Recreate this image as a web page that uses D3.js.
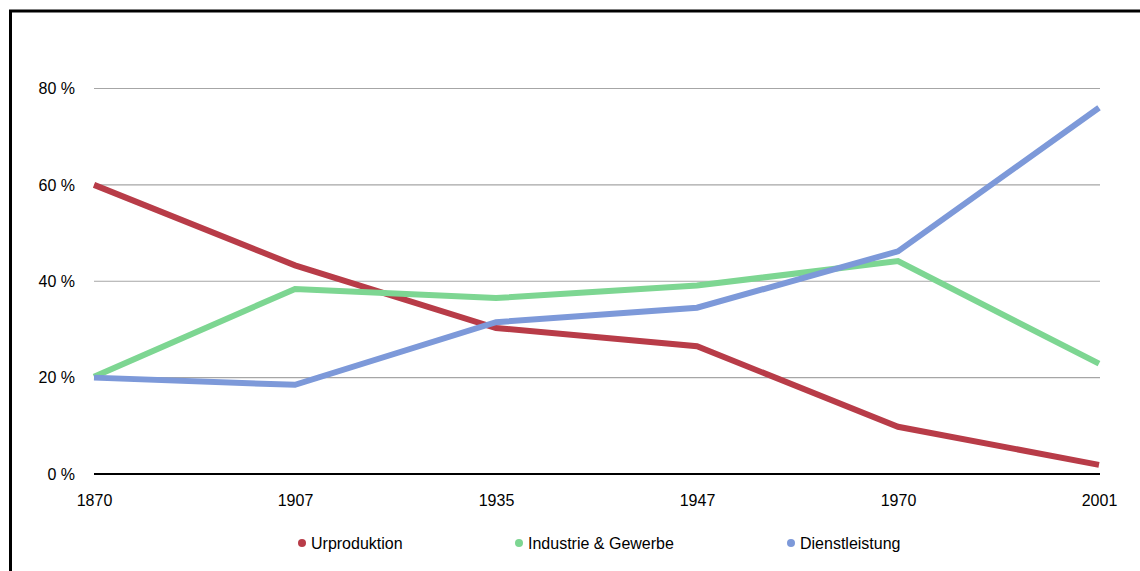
<!DOCTYPE html>
<html>
<head>
<meta charset="utf-8">
<script src="https://cdn.jsdelivr.net/npm/d3@7"></script>
<style>
  html, body { margin: 0; padding: 0; background: #fff; }
  svg text { font-family: "Liberation Sans", Arial, Helvetica, sans-serif; fill: #000; }
</style>
</head>
<body>
<svg id="chart" width="1140" height="571"></svg>
<script>
// Employment share by sector in percent
const years = ["1870", "1907", "1935", "1947", "1970", "2001"];
const urproduktion = [60.0, 43.3, 30.3, 26.5, 9.8, 1.9];
const industrie = [20.2, 38.4, 36.5, 39.1, 44.2, 22.9];
const dienstleistung = [20.0, 18.5, 31.5, 34.5, 46.2, 76.0];
const yTicks = [0, 20, 40, 60, 80];
const seriesNames = ["Urproduktion", "Industrie & Gewerbe", "Dienstleistung"];
const seriesColors = ["#b83c48", "#7dd692", "#7d99d9"];

const series = [urproduktion, industrie, dienstleistung].map((values, i) => ({
  name: seriesNames[i],
  color: seriesColors[i],
  values
}));

const svg = d3.select("#chart");

// outer frame
svg.append("rect")
  .attr("x", 10.5).attr("y", 11)
  .attr("width", 1140).attr("height", 600)
  .attr("fill", "none")
  .attr("stroke", "#000")
  .attr("stroke-width", 3);

const x = d3.scalePoint().domain(years).range([94, 1099]);
const y = d3.scaleLinear().domain([0, 80]).range([474, 88.5]);

// horizontal gridlines
svg.append("g")
  .selectAll("line")
  .data(yTicks.filter(t => t > 0))
  .join("line")
  .attr("x1", 94).attr("x2", 1100)
  .attr("y1", d => y(d)).attr("y2", d => y(d))
  .attr("stroke", "#a6a6a6")
  .attr("stroke-width", 1.2);

// y axis labels
const yAxis = d3.axisLeft(y).tickValues(yTicks).tickSize(0).tickPadding(19)
  .tickFormat(d => d + " %");
svg.append("g")
  .attr("transform", "translate(94,0)")
  .call(yAxis)
  .call(g => g.select(".domain").remove())
  .call(g => g.selectAll("text").attr("font-size", 16));

// x axis labels
const xAxis = d3.axisBottom(x).tickSize(0).tickPadding(21);
svg.append("g")
  .attr("transform", "translate(0,474)")
  .call(xAxis)
  .call(g => g.select(".domain").remove())
  .call(g => g.selectAll("text").attr("font-size", 16));

// baseline
svg.append("line")
  .attr("x1", 94).attr("x2", 1100)
  .attr("y1", y(0)).attr("y2", y(0))
  .attr("stroke", "#000")
  .attr("stroke-width", 2);

// series lines
const line = d3.line()
  .x((d, i) => x(years[i]))
  .y(d => y(d));

svg.append("g")
  .selectAll("path")
  .data(series)
  .join("path")
  .attr("d", d => line(d.values))
  .attr("fill", "none")
  .attr("stroke", d => d.color)
  .attr("stroke-width", 6)
  .attr("stroke-linejoin", "miter");

// legend
const legendX = [302, 519, 791];
const legend = svg.append("g")
  .selectAll("g")
  .data(series)
  .join("g")
  .attr("transform", (d, i) => `translate(${legendX[i]},543)`);
legend.append("circle")
  .attr("r", 4)
  .attr("fill", d => d.color);
legend.append("text")
  .attr("x", 9)
  .attr("dy", "0.35em")
  .attr("font-size", 16)
  .text(d => d.name);
</script>
</body>
</html>
